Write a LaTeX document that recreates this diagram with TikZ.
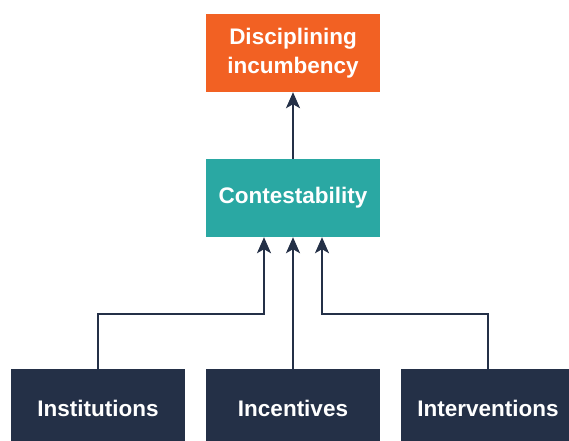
\documentclass[tikz,border=0pt]{standalone}
\usepackage{fontspec}
\setmainfont{Liberation Sans}
\usetikzlibrary{arrows.meta,positioning}
\definecolor{orangebox}{RGB}{242,97,35}
\definecolor{tealbox}{RGB}{42,168,163}
\definecolor{navybox}{RGB}{36,48,71}

\begin{document}
\begin{tikzpicture}[x=1pt, y=-1pt,
    box/.style={minimum width=174pt, minimum height=78pt, inner sep=0pt, text=white,
        font=\bfseries\fontsize{22.5}{29}\selectfont, align=center},
    link/.style={draw=navybox, line width=2pt, -{Stealth[length=16pt,width=14pt,inset=4pt]}}]
    \useasboundingbox (0,0) rectangle (569,440);
    \node[box, fill=orangebox] (disc) at (293,53) {Disciplining\\incumbency};
    \node[box, fill=tealbox] (cont) at (293,198) {Contestability};
    \node[box, fill=navybox] (inst) at (98,408) {Institutions};
    \node[box, fill=navybox] (ince) at (293,408) {Incentives};
    \node[box, fill=navybox] (inte) at (488,408) {Interventions};
    \coordinate (kneeL) at (264,314);
    \coordinate (kneeR) at (322,314);
    \draw[link] (cont) -- (disc);
    \draw[link] (inst.north) |- (kneeL) -- ([xshift=-29pt]cont.south);
    \draw[link] (ince) -- (cont);
    \draw[link] (inte.north) |- (kneeR) -- ([xshift=29pt]cont.south);
\end{tikzpicture}
\end{document}
